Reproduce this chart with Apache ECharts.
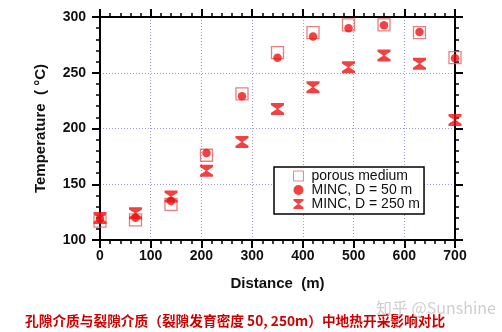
<!DOCTYPE html>
<html><head><meta charset="utf-8">
<script src="https://cdn.jsdelivr.net/npm/echarts@6/dist/echarts.min.js"></script>
<style>html,body{margin:0;padding:0;background:#fff}#c{width:502px;height:332px}</style>
</head><body><div id="c"></div>
<script>
const distances = [0, 70, 140, 210, 280, 350, 420, 490, 560, 630, 700];
const porousMedium = [117, 118, 132, 176, 231, 268, 286, 293, 293, 286, 263.5];
const minc50 = [119, 120, 135, 178, 229, 263.5, 282.5, 290, 292.5, 286.5, 263];
const minc250 = [119.7, 124, 139, 162, 188, 217.5, 237, 255, 265.5, 258, 207.6];
const seriesNames = ['porous medium', 'MINC, D = 50 m', 'MINC, D = 250 m'];
const xTicks = [0, 100, 200, 300, 400, 500, 600, 700];
const yTicks = [100, 150, 200, 250, 300];
const titleText = '孔隙介质与裂隙介质（裂隙发育密度 50, 250m）中地热开采影响对比';
const watermark = '知乎 @Sunshine';

const pair = (xs, ys) => xs.map((x, i) => [x, ys[i]]);
const hourglass = 'path://M0,0 L12,0 L12,2.2 L6.6,6 L12,9.8 L12,12 L0,12 L0,9.8 L5.4,6 L0,2.2 Z';
const smallSquare = 'path://M1,1 L9,1 L9,9 L1,9 Z';
const red = '#ee1111';
const font = 'Liberation Sans, Arial, sans-serif';

const chart = echarts.init(document.getElementById('c'));
const baseAxisLine = {show: true, onZero: false, lineStyle: {color: '#000', width: 2}};
const tick = {show: true, inside: false, length: 8, lineStyle: {color: '#000', width: 2}};
const minor = {show: true, splitNumber: 5, length: 4, lineStyle: {color: '#000', width: 1.5}};
chart.setOption({
  animation: false,
  grid: {left: 100, right: 47, top: 17, bottom: 92},
  xAxis: [{
    type: 'value', min: xTicks[0], max: xTicks[xTicks.length - 1], interval: 100,
    position: 'bottom',
    name: 'Distance  (m)', nameLocation: 'middle', nameGap: 36,
    nameTextStyle: {fontFamily: font, fontWeight: 'bold', fontSize: 15, color: '#111'},
    axisLine: baseAxisLine, axisTick: tick, minorTick: minor,
    axisLabel: {fontFamily: font, fontWeight: 'bold', fontSize: 14, color: '#111', margin: 9},
    splitLine: {show: true, lineStyle: {color: '#9a9ae0', type: [1, 2], width: 1}}
  }, {
    type: 'value', min: xTicks[0], max: xTicks[xTicks.length - 1], interval: 100,
    position: 'top',
    axisLine: baseAxisLine, axisTick: tick, minorTick: minor,
    axisLabel: {show: false}, splitLine: {show: false}
  }],
  yAxis: [{
    type: 'value', min: yTicks[0], max: yTicks[yTicks.length - 1], interval: 50,
    position: 'left',
    name: 'Temperature  ( °C)', nameLocation: 'middle', nameGap: 52,
    nameTextStyle: {fontFamily: font, fontWeight: 'bold', fontSize: 15, color: '#111'},
    axisLine: baseAxisLine, axisTick: tick, minorTick: minor,
    axisLabel: {fontFamily: font, fontWeight: 'bold', fontSize: 14, color: '#111', margin: 14},
    splitLine: {show: true, lineStyle: {color: '#9a9ae0', type: [1, 2], width: 1}}
  }, {
    type: 'value', min: yTicks[0], max: yTicks[yTicks.length - 1], interval: 50,
    position: 'right',
    axisLine: baseAxisLine, axisTick: tick, minorTick: minor,
    axisLabel: {show: false}, splitLine: {show: false}
  }],
  legend: {
    orient: 'vertical', left: 274, top: 167, width: 149,
    padding: [2, 4, 3, 19], itemGap: 0, itemWidth: 10, itemHeight: 10,
    borderColor: '#000', borderWidth: 1.5, backgroundColor: '#fff',
    textStyle: {fontFamily: font, fontSize: 14, lineHeight: 14, color: '#111', padding: [0, 0, 0, 3]},
    data: [
      {name: seriesNames[0], icon: smallSquare, itemStyle: {color: '#fff', borderColor: '#e06a6a', borderWidth: 1}},
      {name: seriesNames[1], icon: 'circle'},
      {name: seriesNames[2], icon: hourglass}
    ]
  },
  graphic: [
    {type: 'text', left: 25, top: 314, style: {text: titleText, fill: '#cc0000', font: 'bold 13.7px "Noto Sans CJK SC", serif'}},
    {type: 'text', left: 376, top: 300, style: {text: watermark, fill: '#cfcfcf', font: '16px "Noto Sans CJK SC", sans-serif'}}
  ],
  series: [
    {name: seriesNames[0], type: 'scatter', data: pair(distances, porousMedium), symbol: 'rect', symbolSize: 12,
      itemStyle: {color: 'rgba(255,255,255,0)', borderColor: '#e06060', borderWidth: 1.3}, z: 2},
    {name: seriesNames[1], type: 'scatter', data: pair(distances, minc50), symbol: 'circle', symbolSize: 8.5,
      itemStyle: {color: red}, z: 3},
    {name: seriesNames[2], type: 'scatter', data: pair(distances, minc250), symbol: hourglass, symbolSize: [13, 12],
      itemStyle: {color: red}, z: 4}
  ]
});
</script></body></html>
